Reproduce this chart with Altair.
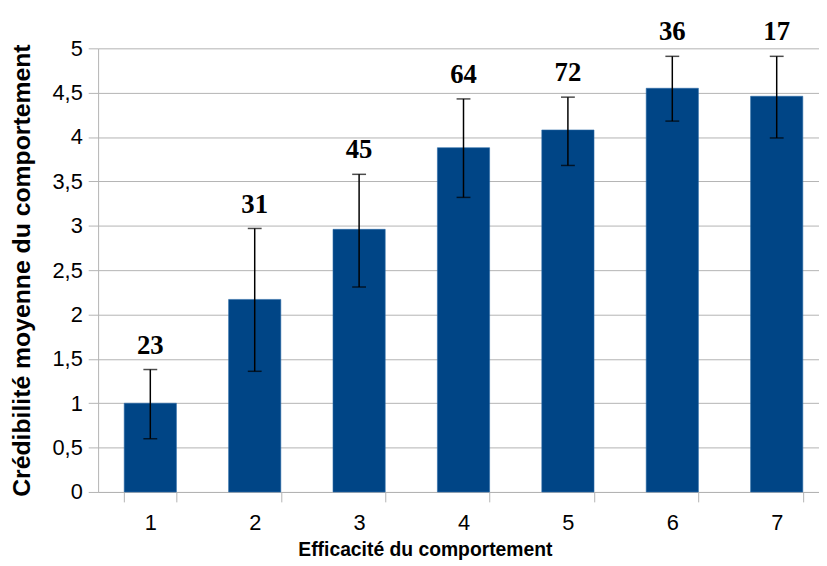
import altair as alt
import pandas as pd

categories = ["1", "2", "3", "4", "5", "6", "7"]
means = [1.00, 2.17, 2.96, 3.88, 4.08, 4.55, 4.46]
err_low = [0.60, 1.36, 2.31, 3.32, 3.68, 4.18, 3.99]
err_high = [1.38, 2.97, 3.58, 4.43, 4.45, 4.91, 4.91]
counts = [23, 31, 45, 64, 72, 36, 17]
y_ticks = [0, 0.5, 1, 1.5, 2, 2.5, 3, 3.5, 4, 4.5, 5]

df = pd.DataFrame({
    "cat": categories,
    "mean": means,
    "lo": err_low,
    "hi": err_high,
    "n": counts,
})

GRID = "#b3b3b3"

x = alt.X(
    "cat:N",
    sort=categories,
    scale=alt.Scale(range=[0, 738], paddingInner=0.5, paddingOuter=0.25),
    axis=alt.Axis(
        title="Efficacité du comportement",
        titleFont="Liberation Sans",
        titleFontSize=19.5,
        titleFontWeight="bold",
        titleColor="#000000",
        titleX=330,
        titlePadding=7,
        labelFont="Liberation Sans",
        labelFontSize=22,
        labelColor="#000000",
        labelAngle=0,
        labelPadding=11,
        tickBand="extent",
        tickSize=10,
        tickColor=GRID,
        domainColor=GRID,
        grid=False,
    ),
)

y_axis = alt.Axis(
    title="Crédibilité moyenne du comportement",
    titleFont="Liberation Sans",
    titleFontSize=25,
    titleFontWeight="bold",
    titleColor="#000000",
    titlePadding=18,
    labelFont="Liberation Sans",
    labelFontSize=22,
    labelColor="#000000",
    labelPadding=6,
    values=y_ticks,
    labelExpr="replace(toString(datum.value), '.', ',')",
    tickSize=10,
    tickColor=GRID,
    domainColor=GRID,
    grid=True,
    gridColor=GRID,
    gridWidth=1,
)

base = alt.Chart(df)

bars = base.mark_bar(color="#004586", stroke="#2a6aa8", strokeWidth=0.6).encode(
    x=x,
    y=alt.Y("mean:Q", scale=alt.Scale(domain=[0, 5], nice=False), axis=y_axis),
)

rules = base.mark_rule(color="#000000", strokeWidth=1.5).encode(
    x=alt.X("cat:N", sort=categories),
    y="lo:Q",
    y2="hi:Q",
)

caps_hi = base.mark_tick(color="#000000", thickness=1.5, size=14).encode(
    x=alt.X("cat:N", sort=categories),
    y="hi:Q",
)
caps_lo = base.mark_tick(color="#000000", thickness=1.5, size=14).encode(
    x=alt.X("cat:N", sort=categories),
    y="lo:Q",
)

labels = base.mark_text(
    font="Liberation Serif",
    fontWeight="bold",
    fontSize=27,
    color="#000000",
    baseline="alphabetic",
    dy=-16,
).encode(
    x=alt.X("cat:N", sort=categories),
    y="hi:Q",
    text="n:Q",
)

chart = (
    alt.layer(bars, rules, caps_hi, caps_lo, labels)
    .properties(
        width=728,
        height=448,
        autosize=alt.AutoSizeParams(type="none"),
        padding={"left": 91, "top": 38, "right": 0, "bottom": 70},
        background="#ffffff",
    )
    .configure_view(stroke=None)
)

chart.save("out.html", embed_options={"renderer": "svg", "actions": False})
